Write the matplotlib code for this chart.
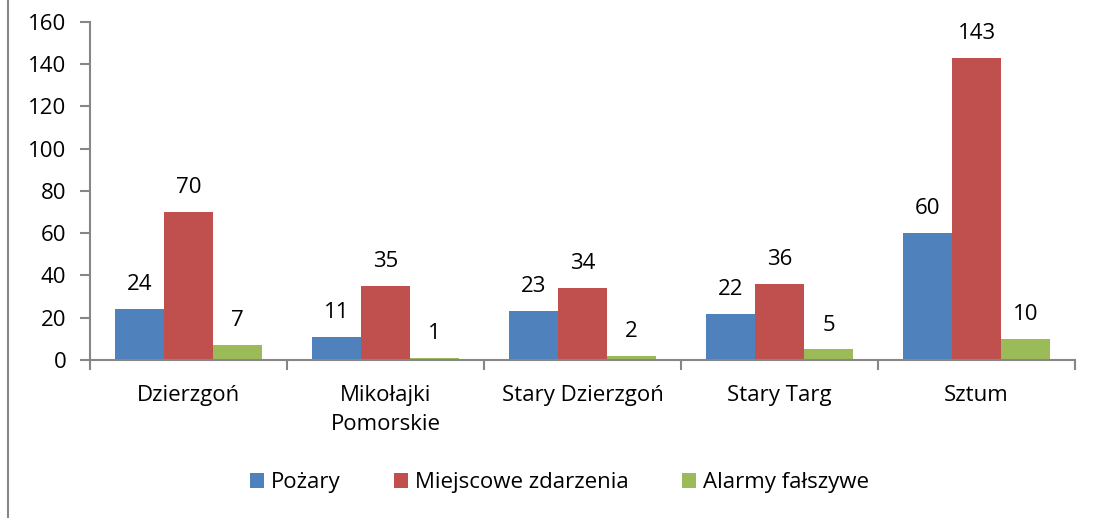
import matplotlib.pyplot as plt
import numpy as np

categories = ['Dzierzgoń', 'Mikołajki\nPomorskie', 'Stary Dzierzgoń', 'Stary Targ', 'Sztum']
series_names = ['Pożary', 'Miejscowe zdarzenia', 'Alarmy fałszywe']
pozary = [24, 11, 23, 22, 60]
miejscowe = [70, 35, 34, 36, 143]
alarmy = [7, 1, 2, 5, 10]
colors = ['#4F81BD', '#C0504D', '#9BBB59']

plt.rcParams['font.family'] = ['Open Sans', 'DejaVu Sans']
axis_col = '#868686'
fs = 16

fig = plt.figure(figsize=(10.97, 5.18), dpi=100)
ax = fig.add_axes([0.082, 0.305, 0.898, 0.653])

x = np.arange(len(categories))
w = 0.249
for i, (vals, name) in enumerate(zip([pozary, miejscowe, alarmy], series_names)):
    bars = ax.bar(x + (i - 1) * w, vals, w, color=colors[i], label=name)
    ax.bar_label(bars, padding=10, fontsize=fs)

ax.set_xlim(-0.5, len(categories) - 0.5)
ax.set_ylim(0, 160)
ax.set_yticks(range(0, 161, 20))
ax.set_xticks(x)
ax.set_xticklabels(categories, fontsize=fs, linespacing=1.5, va='top')
ax.set_xticks(np.arange(-0.5, len(categories), 1), minor=True)
ax.tick_params(axis='x', which='major', length=0, pad=18)
ax.tick_params(axis='x', which='minor', length=7, color=axis_col, width=1.5)
ax.tick_params(axis='y', labelsize=fs, length=7, color=axis_col, width=1.5, pad=10)

for s in ['top', 'right']:
    ax.spines[s].set_visible(False)
for s in ['left', 'bottom']:
    ax.spines[s].set_color(axis_col)
    ax.spines[s].set_linewidth(1.5)

fig.legend(loc='center', bbox_to_anchor=(0.51, 0.068), ncol=3, frameon=False,
           fontsize=fs, handlelength=0.65, handleheight=0.65, handletextpad=0.3,
           columnspacing=2.4)

fig.add_artist(plt.Line2D([0.0075, 0.0075], [0, 1], color=axis_col, lw=1.5,
                          transform=fig.transFigure))

fig.savefig('out.png', dpi=100)
